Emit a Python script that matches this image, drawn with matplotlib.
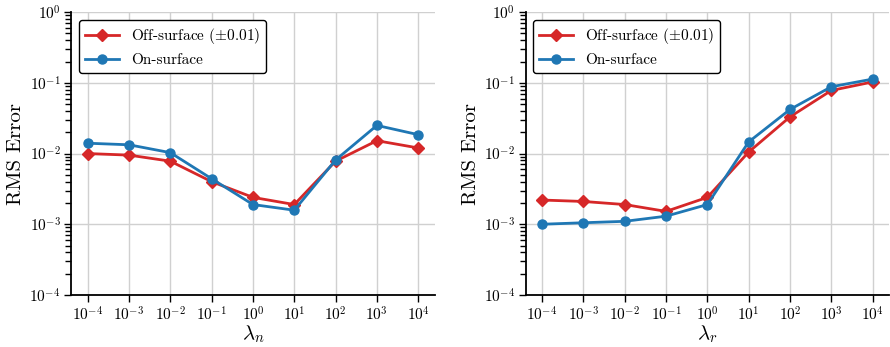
import numpy as np
import matplotlib
matplotlib.use("Agg")
import matplotlib.pyplot as plt
from matplotlib.ticker import LogLocator, NullLocator, NullFormatter

plt.rcParams["font.family"] = "serif"
plt.rcParams["font.serif"] = ["cmr10", "DejaVu Serif"]
plt.rcParams["mathtext.fontset"] = "cm"
plt.rcParams["axes.unicode_minus"] = False
plt.rcParams["axes.formatter.use_mathtext"] = True

# data
lam = [1e-4, 1e-3, 1e-2, 1e-1, 1e0, 1e1, 1e2, 1e3, 1e4]

off_n = [0.0100, 0.0095, 0.0078, 0.0040, 0.0024, 0.0019, 0.0078, 0.0152, 0.0120]
on_n = [0.0140, 0.0133, 0.0103, 0.0044, 0.0019, 0.00158, 0.0081, 0.0250, 0.0185]

off_r = [0.0022, 0.0021, 0.0019, 0.00152, 0.0024, 0.0105, 0.033, 0.078, 0.103]
on_r = [0.0010, 0.00105, 0.0011, 0.0013, 0.0019, 0.0146, 0.042, 0.088, 0.113]

red = "#d62728"
blue = "#1f77b4"

fig, axes = plt.subplots(1, 2, figsize=(8.9, 3.47), dpi=100)
fig.subplots_adjust(left=0.08, right=0.999, top=0.965, bottom=0.15, wspace=0.25)

panels = [(axes[0], off_n, on_n, r"$\lambda_n$"),
          (axes[1], off_r, on_r, r"$\lambda_r$")]

for ax, off, on, xl in panels:
    ax.plot(lam, off, color=red, marker="D", ms=6, lw=2, label=r"Off-surface ($\pm$0.01)")
    ax.plot(lam, on, color=blue, marker="o", ms=6.5, lw=2, label="On-surface")
    ax.set_xscale("log")
    ax.set_yscale("log")
    ax.set_ylim(1e-4, 1)
    ax.set_xticks(lam)
    ax.xaxis.set_minor_locator(NullLocator())
    ax.yaxis.set_minor_locator(LogLocator(base=10, subs=np.arange(2, 10), numticks=100))
    ax.yaxis.set_minor_formatter(NullFormatter())
    ax.grid(True, which="major", color="#d0d0d0", lw=1)
    ax.set_axisbelow(True)
    for s in ["top", "right"]:
        ax.spines[s].set_visible(False)
    for s in ["left", "bottom"]:
        ax.spines[s].set_linewidth(1.3)
    ax.tick_params(which="major", length=5, width=1, labelsize=11, pad=2.5)
    ax.tick_params(axis="y", which="minor", length=4, width=1, color="black", left=True)
    ax.set_xlabel(xl, fontsize=15, labelpad=0)
    ax.set_ylabel("RMS Error", fontsize=15, labelpad=3)
    leg = ax.legend(loc="upper left", fontsize=11, framealpha=1, fancybox=True,
                    edgecolor="black", handlelength=2.2)
    leg.get_frame().set_linewidth(1)

fig.savefig("out.png", dpi=100)
